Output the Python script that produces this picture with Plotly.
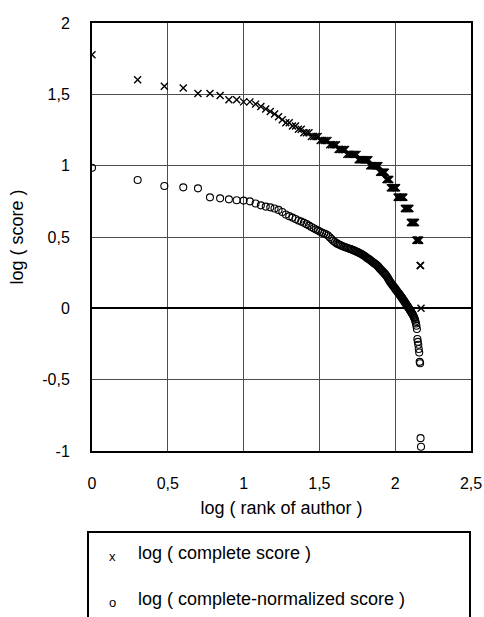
import numpy as np
import plotly.graph_objects as go

# rank of author (1 = best)
author_rank = list(range(1, 149))

# complete score per rank (integer scores)
complete_score = [
    60, 40, 36, 35, 32, 32, 31, 29, 29, 28, 28, 27, 26, 25, 24, 23, 22, 21, 20, 20, 19, 19,
    18, 18,
    17, 17, 17,
    16, 16, 16, 16,
    15, 15, 15, 15, 15,
    14, 14, 14, 14, 14,
    13, 13, 13, 13, 13, 13,
    12, 12, 12, 12, 12, 12, 12, 12, 12,
    11, 11, 11, 11, 11, 11, 11, 11, 11, 11, 11,
    10, 10, 10, 10, 10, 10, 10, 10, 10, 10, 10,
    9, 9, 9, 9, 9, 9, 9, 9,
    8, 8, 8, 8, 8, 8,
    7, 7, 7, 7, 7, 7, 7, 7, 7, 7,
    6, 6, 6, 6, 6, 6, 6, 6, 6, 6, 6, 6,
    5, 5, 5, 5, 5, 5, 5, 5, 5, 5, 5,
    4, 4, 4, 4, 4, 4, 4, 4, 4, 4, 4,
    3, 3, 3, 3, 3, 3, 3, 3, 3,
    2, 2,
    1,
]

# log(complete-normalized score) per rank
log_normalized_score = [
    0.985, 0.900, 0.858, 0.848, 0.841, 0.778, 0.771, 0.764, 0.758, 0.755,
    0.750, 0.735, 0.722, 0.713, 0.708, 0.700, 0.690, 0.675, 0.658, 0.646,
    0.636, 0.626, 0.616, 0.608, 0.600, 0.590, 0.580, 0.570, 0.561, 0.553,
    0.545, 0.537, 0.530, 0.525, 0.519, 0.511, 0.498, 0.486, 0.474, 0.465,
    0.457, 0.450, 0.445, 0.440, 0.435, 0.432, 0.428, 0.425, 0.421, 0.418,
    0.415, 0.411, 0.408, 0.404, 0.400, 0.396, 0.392, 0.388, 0.384, 0.380,
    0.375, 0.370, 0.366, 0.360, 0.355, 0.350, 0.345, 0.340, 0.335, 0.330,
    0.325, 0.320, 0.315, 0.310, 0.305, 0.300, 0.294, 0.288, 0.280, 0.274,
    0.268, 0.262, 0.256, 0.250, 0.244, 0.238, 0.232, 0.225, 0.216, 0.207,
    0.198, 0.190, 0.183, 0.176, 0.169, 0.163, 0.157, 0.151, 0.144, 0.138,
    0.131, 0.125, 0.119, 0.113, 0.108, 0.102, 0.096, 0.090, 0.084, 0.078,
    0.072, 0.066, 0.060, 0.054, 0.048, 0.042, 0.036, 0.030, 0.024, 0.018,
    0.012, 0.006, 0.001, -0.005, -0.011, -0.017, -0.023, -0.029, -0.034, -0.040,
    -0.047, -0.054, -0.062, -0.070, -0.080, -0.092, -0.106, -0.122, -0.145, -0.215,
    -0.235, -0.255, -0.285, -0.310, -0.375, -0.385, -0.910, -0.970,
]

series_names = ["log ( complete score )", "log ( complete-normalized score )"]
legend_glyphs = ["x", "o"]

x_ticks = [0, 0.5, 1, 1.5, 2, 2.5]
x_tick_text = ["0", "0,5", "1", "1,5", "2", "2,5"]
y_ticks = [-1, -0.5, 0, 0.5, 1, 1.5, 2]
y_tick_text = ["-1", "-0,5", "0", "0,5", "1", "1,5", "2"]

x_log_rank = np.log10(author_rank)
y_log_complete = np.log10(complete_score)

FONT = "Liberation Sans, Arial, sans-serif"

fig = go.Figure()
fig.add_trace(go.Scatter(
    x=x_log_rank, y=y_log_complete, mode="markers",
    name=series_names[0], showlegend=False,
    marker=dict(symbol="x-thin-open", size=7, color="black",
                line=dict(color="black", width=1.4)),
))
fig.add_trace(go.Scatter(
    x=x_log_rank, y=log_normalized_score, mode="markers",
    name=series_names[1], showlegend=False,
    marker=dict(symbol="circle-open", size=7, color="black",
                line=dict(color="black", width=1.1)),
))

W, H = 484, 617
ml, mr, mt, mb = 92, 13, 23, 166
pw, ph = W - ml - mr, H - mt - mb

def px_x(px):
    return (px - ml) / pw

def px_y(py):
    return (H - mb - py) / ph

# legend box (cut off at the bottom of the page, as in the reference)
fig.add_shape(type="rect", xref="paper", yref="paper",
              x0=px_x(88), x1=px_x(470), y0=px_y(660), y1=px_y(532),
              line=dict(color="black", width=2), fillcolor="white", layer="below")

legend_rows_y = [553, 599]
for name, glyph, ry in zip(series_names, legend_glyphs, legend_rows_y):
    fig.add_annotation(xref="paper", yref="paper", x=px_x(112), y=px_y(ry + 3),
                       text=glyph, showarrow=False, xanchor="center", yanchor="middle",
                       font=dict(family=FONT, size=13, color="black"))
    fig.add_annotation(xref="paper", yref="paper", x=px_x(136), y=px_y(ry),
                       text=name, showarrow=False, xanchor="left", yanchor="middle",
                       font=dict(family=FONT, size=18, color="black"))

fig.update_layout(
    width=W, height=H,
    margin=dict(l=ml, r=mr, t=mt, b=mb),
    paper_bgcolor="white", plot_bgcolor="white",
    font=dict(family=FONT, size=16, color="black"),
    showlegend=False,
    xaxis=dict(range=[0, 2.5], tickvals=x_ticks, ticktext=x_tick_text,
               automargin=False,
               showgrid=True, gridcolor="#4d4d4d", gridwidth=1,
               zeroline=False, showline=True, linecolor="black", linewidth=2,
               mirror=True, ticks="", ticklabelstandoff=17,
               tickfont=dict(family=FONT, size=16),
               title=dict(text="log ( rank of author )", standoff=10,
                          font=dict(family=FONT, size=18))),
    yaxis=dict(range=[-1, 2], tickvals=y_ticks, ticktext=y_tick_text,
               automargin=False,
               showgrid=True, gridcolor="#4d4d4d", gridwidth=1,
               zeroline=True, zerolinecolor="black", zerolinewidth=2,
               showline=True, linecolor="black", linewidth=2,
               mirror=True, ticks="", ticklabelstandoff=17,
               tickfont=dict(family=FONT, size=16),
               title=dict(text="log ( score )", standoff=14,
                          font=dict(family=FONT, size=18))),
)

fig.write_html("out.html")
